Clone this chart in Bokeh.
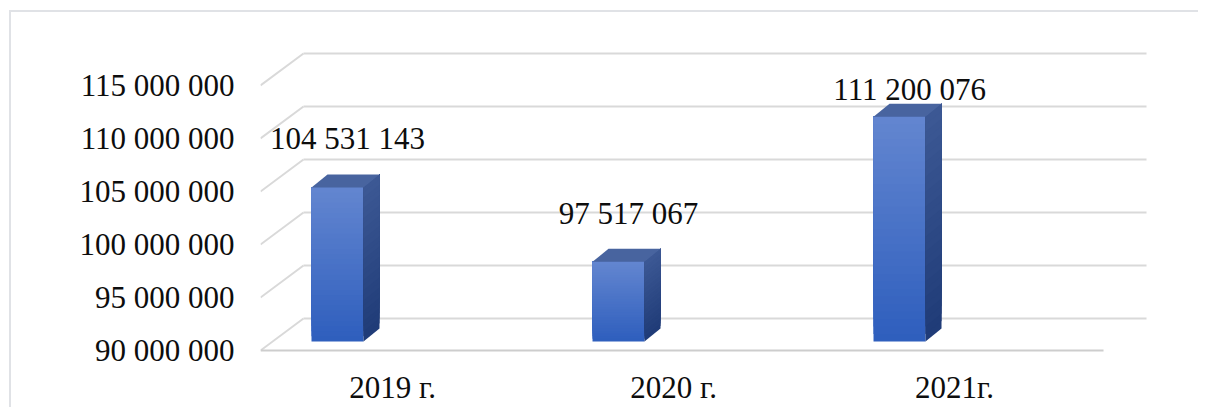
from bokeh.plotting import figure
from bokeh.models import FixedTicker, Range1d
from bokeh.core.properties import value
from bokeh.embed import file_html
from bokeh.resources import INLINE

# ---------------- data ----------------
categories = ["2019 г.", "2020 г.", "2021г."]
values = [104531143, 97517067, 111200076]
value_labels = ["104 531 143", "97 517 067", "111 200 076"]
y_ticks = [90000000, 95000000, 100000000, 105000000, 110000000, 115000000]
y_tick_labels = ["90 000 000", "95 000 000", "100 000 000",
                 "105 000 000", "110 000 000", "115 000 000"]

# ---------------- style / geometry ----------------
FONT = value("Liberation Serif")
FSIZE = "31px"
TXT = "#0d0d0d"
BASE = y_ticks[0]
DEPTH_X, DEPTH_Y = 0.153, 3.019e6          # floor / back wall depth
FACE_OFF, FACE_W, FACE_LIFT = -0.3185, 0.185, 0.849e6
SIDE_X, SIDE_Y = 0.057, 1.226e6            # bar depth
LABEL_DX, LABEL_DY, LABEL_CAP = -0.19, 5.45e6, 114.63e6
XLABEL_DX = -0.03
N_SLICES = 30

FRONT_TOP, FRONT_BOT = (0x63, 0x86, 0xd0), (0x2e, 0x5e, 0xbd)
SIDE_TOP, SIDE_BOT = (0x3d, 0x59, 0x95), (0x1f, 0x3b, 0x77)
TOP_FACE = "#48649f"
GRID = "#d9d9d9"
FLOOR = "#cdcdcd"


def mix(c1, c2, t):
    r, g, b = (round(a + (b_ - a) * t) for a, b_ in zip(c1, c2))
    return "#%02x%02x%02x" % (r, g, b)


n = len(categories)
p = figure(frame_width=938, frame_height=339, output_backend="svg",
           toolbar_location=None,
           x_range=Range1d(-0.5, 2.838), y_range=Range1d(89.717e6, 121.698e6),
           min_border_left=249, min_border_right=0, min_border_top=2,
           min_border_bottom=50)
p.styles = {"border-left": "2px solid #e0e2e6", "border-top": "2px solid #e0e2e6",
            "margin-left": "9px", "margin-top": "10px"}
p.outline_line_color = None
p.xgrid.visible = False
p.ygrid.visible = False
p.background_fill_color = "white"
p.border_fill_color = "white"

# back wall gridlines + left wall diagonals + front floor edge
xl, xr = -0.5, n - 0.5
p.segment(x0=[xl + DEPTH_X] * len(y_ticks), x1=[xr + DEPTH_X] * len(y_ticks),
          y0=[t + DEPTH_Y for t in y_ticks], y1=[t + DEPTH_Y for t in y_ticks],
          line_color=GRID, line_width=2)
p.segment(x0=[xl] * len(y_ticks), x1=[xl + DEPTH_X] * len(y_ticks),
          y0=y_ticks, y1=[t + DEPTH_Y for t in y_ticks],
          line_color=GRID, line_width=2)
p.segment(x0=[xl], x1=[xr], y0=[BASE], y1=[BASE], line_color=FLOOR, line_width=2)

# 3D bars with vertical gradients (slices painted bottom-up, each reaching the top)
fx0, fx1, fy0, fy1, fcol = [], [], [], [], []
sxs, sys_, scol = [], [], []
txs, tys = [], []
for i, v in enumerate(values):
    x0 = i + FACE_OFF
    x1 = x0 + FACE_W
    y0 = BASE + FACE_LIFT
    y1 = v + FACE_LIFT
    h = (y1 - y0) / N_SLICES
    for k in range(N_SLICES):
        t = (k + 0.5) / N_SLICES  # 0 bottom -> 1 top
        a = y0 + k * h
        fx0.append(x0); fx1.append(x1); fy0.append(a); fy1.append(y1)
        fcol.append(mix(FRONT_BOT, FRONT_TOP, t))
        sxs.append([x1, x1 + SIDE_X, x1 + SIDE_X, x1])
        sys_.append([a, a + SIDE_Y, y1 + SIDE_Y, y1])
        scol.append(mix(SIDE_BOT, SIDE_TOP, t))
    txs.append([x0, x1, x1 + SIDE_X, x0 + SIDE_X])
    tys.append([y1, y1, y1 + SIDE_Y, y1 + SIDE_Y])

p.quad(left=fx0, right=fx1, bottom=fy0, top=fy1, fill_color=fcol, line_color=None)
p.patches(xs=sxs, ys=sys_, fill_color=scol, line_color=None)
p.patches(xs=txs, ys=tys, fill_color=TOP_FACE, line_color=None)

# data labels
p.text(x=[i + LABEL_DX for i in range(n)],
       y=[min(v + LABEL_DY, LABEL_CAP) for v in values],
       text=value_labels, text_align="center", text_baseline="alphabetic",
       text_font=FONT, text_font_size=FSIZE, text_color=TXT)

# axes
xt = [i + XLABEL_DX for i in range(n)]
p.xaxis.ticker = FixedTicker(ticks=xt)
p.xaxis.major_label_overrides = {t: c for t, c in zip(xt, categories)}
p.yaxis.ticker = FixedTicker(ticks=y_ticks)
p.yaxis.major_label_overrides = {t: s for t, s in zip(y_ticks, y_tick_labels)}
for ax in (p.xaxis[0], p.yaxis[0]):
    ax.axis_line_color = None
    ax.major_tick_line_color = None
    ax.minor_tick_line_color = None
    ax.major_label_text_font = "Liberation Serif"
    ax.major_label_text_font_size = FSIZE
    ax.major_label_text_color = TXT
p.xaxis.major_label_standoff = 10
p.yaxis.major_label_standoff = 20

open("out.html", "w").write(file_html(p, INLINE))
